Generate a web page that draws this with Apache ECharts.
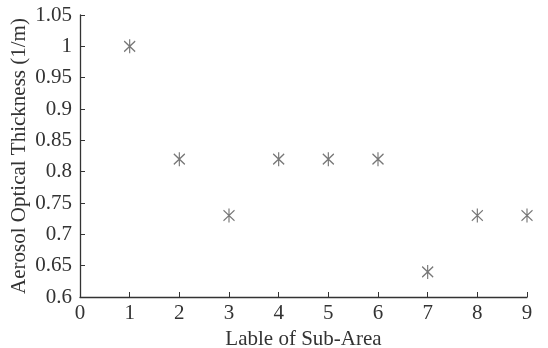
<!DOCTYPE html>
<html>
<head>
<meta charset="utf-8">
<script src="https://cdn.jsdelivr.net/npm/echarts@6/dist/echarts.min.js"></script>
<style>html,body{margin:0;padding:0;background:#fff;}</style>
</head>
<body>
<div id="chart" style="width:548px;height:348px;"></div>
<script>
const subAreas = [1, 2, 3, 4, 5, 6, 7, 8, 9];
const thickness = [1.0, 0.82, 0.73, 0.82, 0.82, 0.82, 0.64, 0.73, 0.73];
const xTicks = [0, 9, 1];          // min, max, interval
const yTicks = [0.6, 1.05, 0.05];

const myChart = echarts.init(document.getElementById('chart'));
const font = 'Liberation Serif';
const axisColor = '#333';

const option = {
    animation: false,
    grid: { left: 80, right: 21, top: 15, bottom: 51, containLabel: false, outerBoundsMode: 'none' },
    xAxis: {
        type: 'value',
        min: xTicks[0], max: xTicks[1], interval: xTicks[2],
        name: 'Lable of Sub-Area',
        nameLocation: 'middle',
        nameGap: 30,
        nameTextStyle: { fontFamily: font, fontSize: 21, color: axisColor },
        axisLine: { lineStyle: { color: axisColor, width: 1.3 } },
        axisTick: { inside: true, length: 5, lineStyle: { color: axisColor } },
        axisLabel: { fontFamily: font, fontSize: 21, color: axisColor, margin: 6 },
        splitLine: { show: false }
    },
    yAxis: {
        type: 'value',
        min: yTicks[0], max: yTicks[1], interval: yTicks[2],
        name: 'Aerosol Optical Thickness (1/m)',
        nameLocation: 'middle',
        nameGap: 50,
        nameMoveOverlap: false,
        nameTextStyle: { fontFamily: font, fontSize: 21, color: axisColor },
        axisLine: { show: true, lineStyle: { color: axisColor, width: 1.3 } },
        axisTick: { show: true, inside: true, length: 5, lineStyle: { color: axisColor } },
        axisLabel: {
            fontFamily: font, fontSize: 21, color: axisColor, margin: 8,
            formatter: v => String(parseFloat(v.toFixed(2)))
        },
        splitLine: { show: false }
    },
    series: [{
        type: 'scatter',
        data: subAreas.map((x, i) => [x, thickness[i]]),
        symbol: 'path://M5,0 L5,12 M0.5,1.5 L9.5,10.5 M9.5,1.5 L0.5,10.5',
        symbolSize: [11, 14],
        itemStyle: { color: 'none', borderColor: '#555', borderWidth: 1.3 }
    }]
};

myChart.setOption(option);
</script>
</body>
</html>
